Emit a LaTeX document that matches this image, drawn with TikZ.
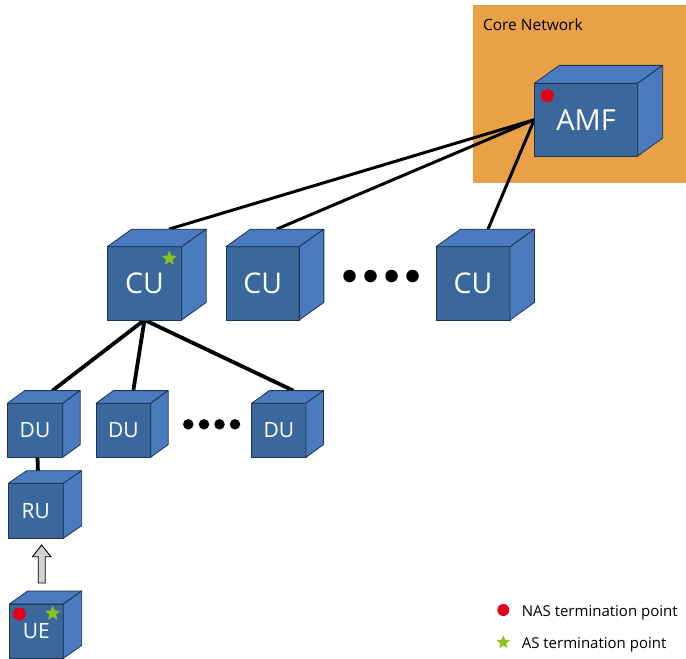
\documentclass[tikz,border=0pt]{standalone}
\usepackage{fontspec}
\setmainfont{Open Sans}
\usetikzlibrary{calc,shapes.geometric,backgrounds}
\definecolor{frontc}{HTML}{3A689C}
\definecolor{facec}{HTML}{4A7BBF}
\definecolor{edgec}{HTML}{1E3350}
\definecolor{corec}{HTML}{E9A147}
\definecolor{nasred}{HTML}{E2001A}
\definecolor{asgreen}{HTML}{8CC21E}
\definecolor{arrowgrey}{HTML}{D2D2D2}
\pgfdeclarelayer{wires}
\pgfsetlayers{background,wires,main}
\tikzset{
  front/.style={draw=edgec, fill=frontc, line width=0.8pt, inner sep=0pt, outer sep=0pt, text=white},
  face/.style={draw=edgec, fill=facec, line width=0.8pt, line join=round},
  wire/.style={line width=3pt, black},
  thickwire/.style={line width=3.8pt, black},
  nasdot/.style={circle, fill=nasred, inner sep=0pt, minimum size=13pt},
  asstar/.style={star, star points=5, star point ratio=2.2, fill=asgreen, inner sep=0pt, minimum size=15.5pt},
  ellipsisdot/.style={circle, fill=black, inner sep=0pt},
  bigfont/.style={font=\fontsize{29}{32}\selectfont},
  midfont/.style={font=\fontsize{28.5}{31}\selectfont},
  smallfont/.style={font=\fontsize{21}{24}\selectfont},
  legendtext/.style={anchor=base west, font=\fontsize{15}{18}\selectfont},
}
\newcommand\cubebox[8]{%
  \node[front, minimum width=#3pt, minimum height=#4pt, #7] (#1) at #2 {#8};
  \path[face] (#1.north west) -- ++(#5,#6) -- ($(#1.north east)+(#5,#6)$) -- (#1.north east) -- cycle;
  \path[face] (#1.north east) -- ++(#5,#6) -- ($(#1.south east)+(#5,#6)$) -- (#1.south east) -- cycle;
}
\begin{document}
\begin{tikzpicture}[x=1pt,y=-1pt]
\useasboundingbox (0,0) rectangle (686,659);
\begin{scope}[on background layer]
  \node[fill=corec, anchor=north west, minimum width=213pt, minimum height=178pt, inner sep=0pt, outer sep=0pt] (core) at (473,5) {};
\end{scope}
\node[anchor=base west, font=\fontsize{15.5}{18}\selectfont] (corelabel) at (479.5,30.5) {Core Network};

% cubes
\cubebox{amf}{(586,119.7)}{103.4}{72.7}{25}{-18}{bigfont}{AMF}
\cubebox{cu1}{(144.5,283.3)}{74.4}{73.3}{24.5}{-17.5}{midfont}{CU}
\cubebox{cu2}{(262.7,283.3)}{73.3}{73.3}{24.5}{-17.5}{midfont}{CU}
\cubebox{cu3}{(473,283.3)}{74}{73.3}{24.5}{-17.5}{midfont}{CU}
\cubebox{du1}{(35,430.3)}{55.4}{54}{17.5}{-12.7}{smallfont}{DU}
\cubebox{du2}{(123.3,430.3)}{54.7}{54}{17.5}{-12.7}{smallfont}{DU}
\cubebox{du3}{(278.8,430.3)}{54.3}{54}{17.5}{-12.7}{smallfont}{DU}
\cubebox{ru}{(35.8,510.8)}{55}{55}{18.4}{-12.6}{smallfont}{RU}
\cubebox{ue}{(36.3,631.2)}{54}{54.3}{18.4}{-13}{smallfont,text depth=-8pt}{UE}

% markers
\node[nasdot] (amfnas) at (547.3,95.7) {};
\node[asstar] (cuas) at (169.3,258.3) {};
\node[nasdot] (uenas) at (19.3,614) {};
\node[asstar] (ueas) at (52.7,613.3) {};

% ellipsis dots
\foreach \i/\xx in {1/349.5,2/370.5,3/391.5,4/412.5}
  \node[ellipsisdot, minimum size=12.5pt] (cdot\i) at (\xx,276) {};
\foreach \i/\xx in {1/188.3,2/204,3/219.5,4/235}
  \node[ellipsisdot, minimum size=10.5pt] (ddot\i) at (\xx,424.3) {};

% connectors
\begin{pgfonlayer}{wires}
  \draw[wire] ($(cu1.north)+(24.5,-17.5)$) -- (amf.west);
  \draw[wire] ($(cu2.north)+(14,-17.5)$) -- (amf.west);
  \draw[wire] ($(cu3.north)+(15,-17.5)$) -- (amf.west);
  \draw[thickwire] (cu1.south) -- ($(du1.north)+(17.5,-12.7)$);
  \draw[thickwire] (cu1.south) -- ($(du2.north)+(10,-12.7)$);
  \draw[thickwire] (cu1.south) -- ($(du3.north)+(14.5,-12.7)$);
  \draw[thickwire] ([xshift=2.5pt]du1.south) -- ([xshift=2.5pt]ru.north);
\end{pgfonlayer}

% block arrow UE -> RU
\coordinate (atip) at (41.7,545);
\coordinate (abase) at (41.7,583);
\draw[fill=arrowgrey, line width=0.9pt, line join=miter]
  (atip) -- ($(atip)+(9.2,11.7)$) -- ($(atip)+(3.5,11.7)$) -- ($(abase)+(3.5,0)$)
  -- ($(abase)+(-3.5,0)$) -- ($(atip)+(-3.5,11.7)$) -- ($(atip)+(-9.2,11.7)$) -- cycle;

% legend
\node[nasdot, minimum size=12pt] (legnas) at (503.3,610) {};
\node[legendtext] (legnastext) at (518.3,616.5) {NAS termination point};
\node[asstar, minimum size=14pt] (legas) at (503.3,642.3) {};
\node[legendtext] (legastext) at (518.3,648.3) {AS termination point};
\end{tikzpicture}
\end{document}
